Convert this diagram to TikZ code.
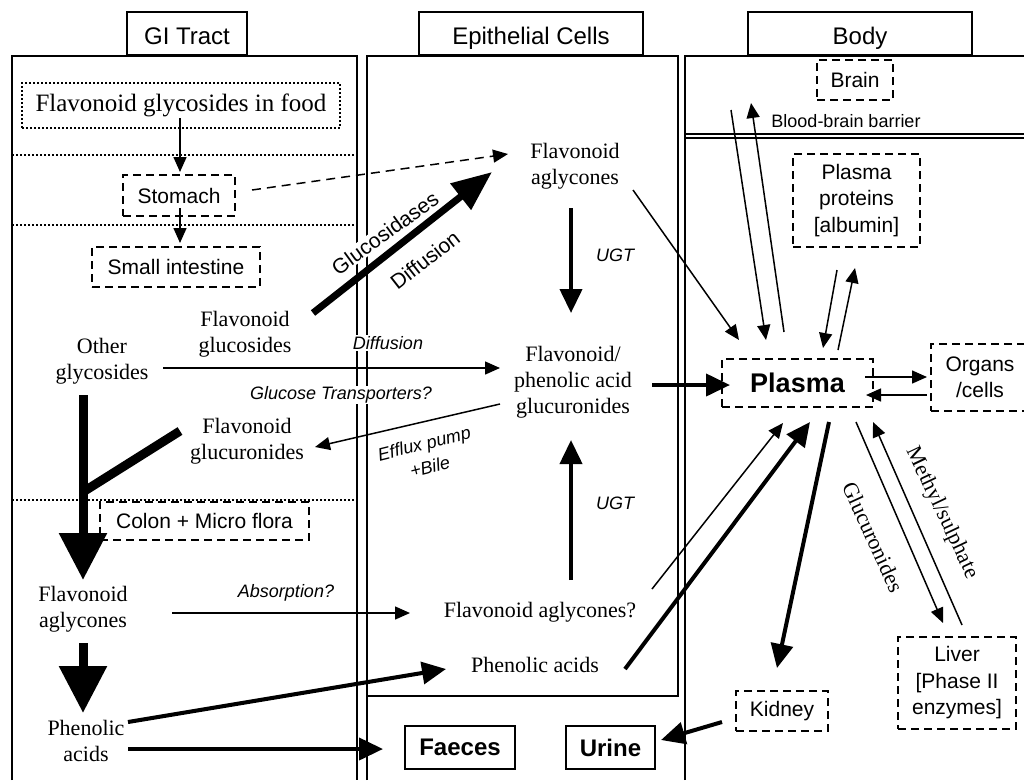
\documentclass[tikz,border=0pt]{standalone}
\usepackage{fontspec}
\setmainfont{Liberation Serif}
\setsansfont{Liberation Sans}
\usetikzlibrary{arrows.meta}

\tikzset{
	frame/.style={line width=2pt},
	dotline/.style={line width=2pt, dash pattern=on 2pt off 2pt},
	hdr/.style={draw, line width=2pt, minimum width=224pt, minimum height=43pt, inner sep=0pt, text height=22pt, text depth=1pt, font=\fontsize{24}{28}\selectfont\sffamily},
	dbox/.style={draw, line width=2pt, dash pattern=on 8pt off 5pt, align=center, inner sep=0pt, font=\fontsize{21}{26.5}\selectfont\sffamily},
	sbox/.style={draw, line width=2pt, minimum height=43pt, inner sep=0pt, font=\fontsize{24}{28}\selectfont\bfseries\sffamily},
	txt/.style={align=center, inner sep=0pt, font=\fontsize{22}{26}\selectfont},
	lab/.style={fill=white, inner sep=1pt, align=center, font=\fontsize{18}{24}\selectfont\sffamily\itshape},
	thinarr/.style={line width=1.5pt, -{Triangle[length=15pt,width=13pt]}},
	thickarr/.style={line width=4pt, -{Triangle[length=24pt,width=22pt]}},
	fatarr/.style={line width=7pt, -{Triangle[length=40pt,width=32pt]}},
	hugearr/.style={line width=9pt, -{Triangle[length=47pt,width=46pt]}}
}

\begin{document}
\begin{tikzpicture}[x=1pt, y=-1pt]
	\useasboundingbox (0,0) rectangle (1024,780);
	% columns
	\draw[frame] (12,780) -- (12,56) -- (357,56) -- (357,780);
	\draw[frame] (367,780) -- (367,56) -- (678,56) -- (678,696) -- (367,696);
	\draw[frame] (685,780) -- (685,56) -- (1024,56);
	\foreach \y in {155,225,500}{
		\draw[dotline] (12,\y) -- (357,\y);
	}
	\draw[line width=1.5pt] (685,134) -- (1024,134) (685,138) -- (1024,138);

	\node[hdr, minimum width=120pt] (gi) at (187,33.5) {GI Tract};
	\node[hdr] (epi) at (531,33.5) {Epithelial Cells};
	\node[hdr] (body) at (860,33.5) {Body};

	% boxes
	\node[draw, line width=2pt, dash pattern=on 2pt off 2pt, minimum width=318pt, minimum height=45pt, inner sep=0pt, font=\fontsize{25}{30}\selectfont] (food) at (181,105.5) {Flavonoid glycosides in food};
	\node[dbox, minimum width=112pt, minimum height=41pt] (stomach) at (179,195.5) {Stomach};
	\node[dbox, minimum width=168pt, minimum height=40pt] (smallint) at (176,267) {Small intestine};
	\node[dbox, minimum width=209pt, minimum height=38pt] (colon) at (204.5,521) {Colon + Micro flora};
	\node[dbox, minimum width=76pt, minimum height=40pt] (brain) at (855,80) {Brain};
	\node[dbox, minimum width=127pt, minimum height=93pt] (proteins) at (856.5,200.5) {Plasma\\proteins\\{[albumin]}};
	\node[dbox, minimum width=151pt, minimum height=48pt, font=\fontsize{27}{30}\selectfont\bfseries\sffamily] (plasma) at (797.5,383) {Plasma};
	\node[dbox, minimum width=98pt, minimum height=67pt] (organs) at (980,377.5) {Organs\\/cells};
	\node[dbox, minimum width=92pt, minimum height=40pt] (kidney) at (782,711) {Kidney};
	\node[dbox, minimum width=118pt, minimum height=92pt] (liver) at (957,683) {Liver\\{[Phase II}\\enzymes]};
	\node[sbox, minimum width=110pt] (faeces) at (460,747.5) {Faeces};
	\node[sbox, minimum width=89pt] (urine) at (610.5,747.5) {Urine};

	% compounds
	\node[txt] (agly) at (575,166) {Flavonoid\\aglycones};
	\node[txt] (glucs) at (573,382) {Flavonoid/\\phenolic acid\\glucuronides};
	\node[txt] (othergly) at (102,361) {Other\\glycosides};
	\node[txt] (flglucos) at (245,334) {Flavonoid\\glucosides};
	\node[txt] (flglucur) at (247,441) {Flavonoid\\glucuronides};
	\node[txt] (colagly) at (83,609) {Flavonoid\\aglycones};
	\node[txt] (colphen) at (86,741) {Phenolic\\acids};
	\node[txt] (epiaglyq) at (540,612) {Flavonoid aglycones?};
	\node[txt] (epiphen) at (535,665) {Phenolic acids};

	% labels
	\node[lab] (ldiff) at (388,343) {Diffusion};
	\node[lab] (lglut) at (341,395) {Glucose Transporters?};
	\node[lab, rotate=14] (lefflux) at (427,455) {Efflux pump\\+Bile};
	\node[lab] (lugta) at (615,255) {UGT};
	\node[lab] (lugtb) at (615,503) {UGT};
	\node[lab] (labs) at (286,593) {Absorption?};
	\node[lab, rotate=36, font=\fontsize{21}{25}\selectfont\sffamily] (lgluco) at (385,233) {Glucosidases};
	\node[lab, rotate=38, font=\fontsize{21}{25}\selectfont\sffamily] (ldiffb) at (425,260) {Diffusion};
	\node[rotate=-65.5, font=\fontsize{22}{26}\selectfont] (lglucur) at (873,537) {Glucuronides};
	\node[rotate=-64.6, font=\fontsize{22}{26}\selectfont] (lmethyl) at (942,513) {Methyl/sulphate};
	\node[font=\fontsize{18}{21}\selectfont\sffamily] (lbbb) at (846,121) {Blood-brain barrier};

	% arrows
	\draw[thinarr, dash pattern=on 9pt off 6pt] ([shift={(73,-5.5)}]stomach.center) -- ([shift={(-67,-12)}]agly.center);
	\foreach \a/\pa/\b/\pb in {food/{-1,12.5}/stomach/{1,-23.5}, stomach/{1,12.5}/smallint/{4,-24},
		othergly/{61,7}/glucs/{-73,-14}, glucs/{-73,22}/flglucur/{68,6}, colagly/{89,4}/epiaglyq/{-130,1},
		agly/{58,24}/plasma/{-58.5,-43}, epiaglyq/{112,-23}/plasma/{-14.5,40},
		plasma/{58.5,39}/liver/{-14,-60}, liver/{5,-58}/plasma/{75.5,39},
		plasma/{67.5,-6}/organs/{-53,-0.5}, organs/{-53,17.5}/plasma/{68.5,12},
		brain/{-124,30}/plasma/{-31.5,-43}, plasma/{-13.5,-51}/brain/{-104,23},
		proteins/{-19.5,69.5}/plasma/{25.5,-35}, plasma/{40.5,-33}/proteins/{-1.5,67.5}}{
		\draw[thinarr] ([shift={(\pa)}]\a.center) -- ([shift={(\pb)}]\b.center);
	}
	\foreach \a/\pa/\b/\pb in {agly/{-4,42}/glucs/{-2,-69}, epiaglyq/{31,-32}/glucs/{-2,58},
		glucs/{79,3}/plasma/{-67.5,2}, colphen/{42,-19}/epiphen/{-89,4}, colphen/{42,8}/faeces/{-77,1.5},
		epiphen/{90,4}/plasma/{12.5,39}, plasma/{31.5,39}/kidney/{-5,-43}, kidney/{-60,11}/urine/{50.5,-7.5}}{
		\draw[thickarr] ([shift={(\pa)}]\a.center) -- ([shift={(\pb)}]\b.center);
	}
	\draw[fatarr] ([shift={(68,-21)}]flglucos.center) -- ([shift={(-83,6)}]agly.center);
	\coordinate (merge) at (83,492);
	\draw[line width=9pt] ([shift={(-67,-10)}]flglucur.center) -- (merge);
	\draw[hugearr] ([shift={(-19,34)}]othergly.center) -- ([shift={(0,-29)}]colagly.center);
	\draw[hugearr] ([shift={(0,34)}]colagly.center) -- ([shift={(-3,-28)}]colphen.center);
\end{tikzpicture}
\end{document}
